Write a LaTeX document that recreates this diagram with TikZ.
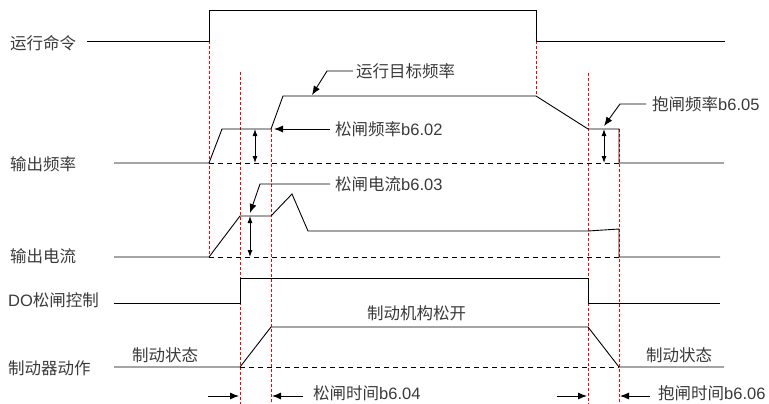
\documentclass[tikz,border=0pt]{standalone}
\usepackage{fontspec}
\setmainfont{Liberation Sans}
\newfontfamily\cjk{Noto Sans CJK SC}
\usetikzlibrary{arrows.meta}
\definecolor{txt}{HTML}{3A3A3A}
\begin{document}
\begin{tikzpicture}[x=1pt,y=-1pt,
  sig/.style={black, line width=0.9pt},
  basedash/.style={black, line width=0.9pt, dash pattern=on 5pt off 4pt},
  reddash/.style={red, line width=0.8pt, dash pattern=on 3pt off 2pt},
  lbl/.style={anchor=west, inner sep=0pt, text=txt, font=\fontsize{16.5}{18}\selectfont},
  arr/.style={black, line width=0.9pt, -{Latex[length=9pt,width=7pt]}},
  dbl/.style={black, line width=0.9pt, {Latex[length=7pt,width=5pt]}-{Latex[length=7pt,width=5pt]}}]
\useasboundingbox (0,0) rectangle (769,404);

% left labels
\node[lbl] (lrun) at (10,43) {\cjk 运行命令};
\node[lbl] (lfreq) at (10,164) {\cjk 输出频率};
\node[lbl] (lcur) at (10,256) {\cjk 输出电流};
\node[lbl] (ldo) at (8,300) {DO{\cjk 松闸控制}};
\node[lbl] (lbrk) at (8,368) {\cjk 制动器动作};

% red dashed time markers
\coordinate (r1t) at (209,41);  \coordinate (r1b) at (209,257);
\coordinate (r2t) at (240,72);  \coordinate (r2b) at (240,404);
\coordinate (r3t) at (271,129); \coordinate (r3b) at (271,404);
\coordinate (r4t) at (536,41);  \coordinate (r4b) at (536,96);
\coordinate (r5t) at (588,73);  \coordinate (r5b) at (588,404);
\coordinate (r6t) at (619,129); \coordinate (r6b) at (619,404);
\foreach \a in {1,...,6} \draw[reddash] (r\a t) -- (r\a b);

% run command
\coordinate (a0) at (87,41);
\draw[sig] (a0) -- (209,41) -- (209,10) -- (536,10) -- (536,41) -- (725,41);

% output frequency
\coordinate (f0) at (114,163);
\draw[sig] (f0) -- (209,163) -- (222,129) -- (271,129) -- (283,96) -- (536,96)
  -- (588,129) -- (619,129) -- (619,163) -- (724,163);
\draw[basedash] (209,163) -- (619,163);

% output current
\coordinate (c0) at (114,257);
\draw[sig] (c0) -- (209,257) -- (240,216) -- (271,216) -- (292,194) -- (308,231)
  -- (588,231) -- (619,229) -- (619,257) -- (720,257);
\draw[basedash] (209,257) -- (619,257);

% DO brake release control
\coordinate (d0) at (114,303);
\draw[sig] (d0) -- (240,303) -- (240,278) -- (588,278) -- (588,303) -- (720,303);

% brake action
\coordinate (b0) at (114,367);
\draw[sig] (b0) -- (240,367) -- (271,327) -- (588,327) -- (619,367) -- (724,367);
\draw[basedash] (240,367) -- (619,367);

% double arrows
\coordinate (da1t) at (255,129); \coordinate (da1b) at (255,163);
\coordinate (da2t) at (250,216); \coordinate (da2b) at (250,257);
\coordinate (da3t) at (604,129); \coordinate (da3b) at (604,163);
\draw[dbl] (da1t) -- (da1b);
\draw[dbl] (da2t) -- (da2b);
\draw[dbl] (da3t) -- (da3b);

% annotation labels
\node[lbl] (tgt) at (356,71) {\cjk 运行目标频率};
\coordinate (tgtA) at (312,95);
\draw[arr] (tgt.west) ++(-3,0) -- (327,71) -- (tgtA);

\node[lbl] (f02) at (335,129) {{\cjk 松闸频率}b6.02};
\coordinate (f02A) at (274,129);
\draw[arr] ([xshift=-5pt]f02.west) -- (f02A);

\node[lbl] (i03) at (335,184) {{\cjk 松闸电流}b6.03};
\coordinate (i03A) at (250,213);
\draw[arr] ([xshift=-5pt]i03.west) -- (260,184) -- (i03A);

\node[lbl] (f05) at (652,104) {{\cjk 抱闸频率}b6.05};
\coordinate (f05A) at (604,126);
\draw[arr] ([xshift=-6pt]f05.west) -- (620,104) -- (f05A);

% state labels
\node[lbl] (s1) at (132,355) {\cjk 制动状态};
\node[lbl] (s2) at (646,355) {\cjk 制动状态};
\node[lbl] (s3) at (367,313) {\cjk 制动机构松开};

% time labels
\node[lbl] (t04) at (313,393.5) {{\cjk 松闸时间}b6.04};
\coordinate (t04a) at (208,396); \coordinate (t04b) at (239,396);
\coordinate (t04c) at (272,396);
\draw[arr] (t04a) -- (t04b);
\draw[arr] ([xshift=-10pt,yshift=-2.5pt]t04.west) -- (t04c);

\node[lbl] (t06) at (658,393.5) {{\cjk 抱闸时间}b6.06};
\coordinate (t06a) at (557,396); \coordinate (t06b) at (587,396);
\coordinate (t06c) at (620,396);
\draw[arr] (t06a) -- (t06b);
\draw[arr] ([xshift=-8pt,yshift=-2.5pt]t06.west) -- (t06c);
\end{tikzpicture}
\end{document}
